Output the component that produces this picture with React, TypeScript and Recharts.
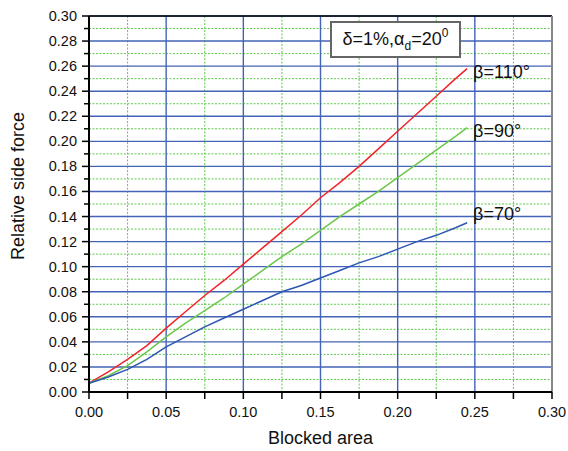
import React from 'react';
import { LineChart, Line, XAxis, YAxis, CartesianGrid, ReferenceLine } from 'recharts';

const blockedArea = [0, 0.0125, 0.025, 0.0375, 0.05, 0.0625, 0.075, 0.0875, 0.1, 0.1125, 0.125, 0.1375, 0.15, 0.1625, 0.175, 0.1875, 0.2, 0.2125, 0.225, 0.2375, 0.245];
const beta110 = [0.007, 0.016, 0.026, 0.037, 0.051, 0.064, 0.077, 0.089, 0.102, 0.115, 0.128, 0.141, 0.155, 0.167, 0.180, 0.194, 0.208, 0.222, 0.236, 0.250, 0.258];
const beta90 = [0.007, 0.013, 0.021, 0.032, 0.044, 0.055, 0.065, 0.075, 0.086, 0.097, 0.108, 0.118, 0.129, 0.140, 0.150, 0.160, 0.171, 0.182, 0.193, 0.204, 0.211];
const beta70 = [0.007, 0.012, 0.018, 0.026, 0.036, 0.044, 0.052, 0.059, 0.066, 0.073, 0.080, 0.085, 0.091, 0.097, 0.103, 0.108, 0.114, 0.120, 0.125, 0.131, 0.135];
const seriesNames = ['β=110°', 'β=90°', 'β=70°'];

const xTicks = [0, 0.025, 0.05, 0.075, 0.1, 0.125, 0.15, 0.175, 0.2, 0.225, 0.25, 0.275, 0.3];
const xMajor = [0, 0.05, 0.1, 0.15, 0.2, 0.25, 0.3];
const xMinor = [0.025, 0.075, 0.125, 0.175, 0.225, 0.275];
const yTicks = [0, 0.01, 0.02, 0.03, 0.04, 0.05, 0.06, 0.07, 0.08, 0.09, 0.1, 0.11, 0.12, 0.13, 0.14, 0.15, 0.16, 0.17, 0.18, 0.19, 0.2, 0.21, 0.22, 0.23, 0.24, 0.25, 0.26, 0.27, 0.28, 0.29, 0.3];
const yMajor = [0, 0.02, 0.04, 0.06, 0.08, 0.1, 0.12, 0.14, 0.16, 0.18, 0.2, 0.22, 0.24, 0.26, 0.28, 0.3];
const yMinor = [0.01, 0.03, 0.05, 0.07, 0.09, 0.11, 0.13, 0.15, 0.17, 0.19, 0.21, 0.23, 0.25, 0.27, 0.29];

const data = blockedArea.map((x, i) => ({ x, b110: beta110[i], b90: beta90[i], b70: beta70[i] }));

const FONT = '"Liberation Sans", Arial, sans-serif';

const isIn = (arr: number[], v: number) => arr.some((a) => Math.abs(a - v) < 1e-9);

const YTick = (props: any) => {
  const { x, y, payload } = props;
  const v = payload.value;
  const major = isIn(yMajor, v);
  return (
    <g>
      <line x1={x - (major ? 7 : 5)} x2={x} y1={y} y2={y} stroke="#000" strokeWidth={1.5} />
      {major && (
        <text x={x - 12} y={y} dy={5} textAnchor="end" fontSize={14.5} fontFamily={FONT} fill="#111">
          {v.toFixed(2)}
        </text>
      )}
    </g>
  );
};

const XTick = (props: any) => {
  const { x, y, payload } = props;
  const v = payload.value;
  const major = isIn(xMajor, v);
  return (
    <g>
      <line x1={x} x2={x} y1={y} y2={y + 7} stroke="#000" strokeWidth={1.5} />
      {major && (
        <text x={x} y={y + 25} textAnchor="middle" fontSize={14.5} fontFamily={FONT} fill="#111">
          {v.toFixed(2)}
        </text>
      )}
    </g>
  );
};

const endLabel = (name: string, dy: number) => (props: any) => {
  const { x, y, index } = props;
  if (index !== blockedArea.length - 1) return null;
  return (
    <text x={x + 6} y={y + dy} fontSize={18} fontFamily={FONT} fill="#111">
      {name}
    </text>
  );
};

export default function App() {
  return (
    <div style={{ position: 'absolute', left: 0, top: 0, width: 568, height: 451, background: '#fff' }}>
      <LineChart width={568} height={451} data={data} margin={{ top: 16, right: 16, bottom: 29, left: 0 }}>
        <CartesianGrid
          horizontalValues={yMinor}
          verticalValues={xMinor}
          stroke="#5cc94a"
          strokeDasharray="2 1.5"
          strokeWidth={1}
        />
        <CartesianGrid
          horizontalValues={yMajor}
          verticalValues={xMajor}
          stroke="#4363b6"
          strokeWidth={1.4}
        />
        <XAxis
          dataKey="x"
          type="number"
          domain={[0, 0.3]}
          ticks={xTicks}
          interval={0}
          height={30}
          tickSize={0}
          tickMargin={0}
          tickLine={false}
          tick={XTick}
          axisLine={{ stroke: '#000', strokeWidth: 2 }}
          label={(p: any) => {
            const vb = p.viewBox;
            return (
              <text x={vb.x + vb.width / 2} y={vb.y + 52} textAnchor="middle" fontSize={18} fontFamily={FONT} fill="#111">
                Blocked area
              </text>
            );
          }}
        />
        <YAxis
          type="number"
          domain={[0, 0.3]}
          ticks={yTicks}
          interval={0}
          width={89}
          tickSize={0}
          tickMargin={0}
          tickLine={false}
          tick={YTick}
          axisLine={{ stroke: '#000', strokeWidth: 2 }}
          label={() => {
            const cx = 24;
            const cy = 186;
            return (
              <text x={cx} y={cy} transform={`rotate(-90 ${cx} ${cy})`} textAnchor="middle" fontSize={18} fontFamily={FONT} fill="#111">
                Relative side force
              </text>
            );
          }}
        />
        <ReferenceLine y={0.3} stroke="#000" strokeWidth={1.5} />
        <ReferenceLine x={0.3} stroke="#888" strokeWidth={2} />
        <Line dataKey="b110" type="linear" stroke="#f2232b" strokeWidth={1.5} dot={false} isAnimationActive={false} label={endLabel(seriesNames[0], 9)} />
        <Line dataKey="b90" type="linear" stroke="#6cc64a" strokeWidth={1.5} dot={false} isAnimationActive={false} label={endLabel(seriesNames[1], 9)} />
        <Line dataKey="b70" type="linear" stroke="#2d55b3" strokeWidth={1.5} dot={false} isAnimationActive={false} label={endLabel(seriesNames[2], -3)} />
      </LineChart>
      <div
        style={{
          position: 'absolute',
          left: 330,
          top: 21,
          width: 127,
          height: 33,
          border: '2px solid #666',
          background: '#fff',
          fontFamily: FONT,
          fontSize: 18,
          color: '#111',
          lineHeight: '33px',
          textAlign: 'center',
          whiteSpace: 'nowrap',
        }}
      >
        δ=1%,α<sub style={{ fontSize: 12, verticalAlign: 'baseline', position: 'relative', top: 5 }}>d</sub>=20
        <sup style={{ fontSize: 12, verticalAlign: 'baseline', position: 'relative', top: -8 }}>0</sup>
      </div>
    </div>
  );
}
